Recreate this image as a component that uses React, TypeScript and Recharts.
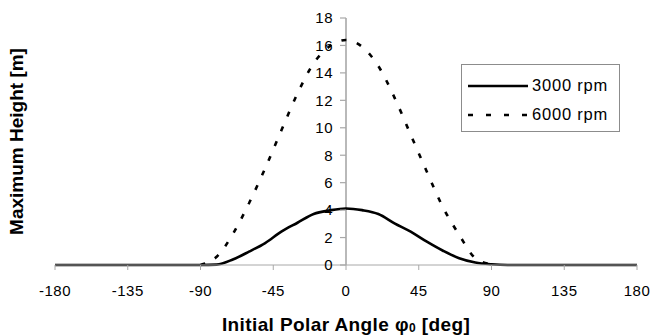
import React from "react";
import { LineChart, Line, XAxis, YAxis, ReferenceLine } from "recharts";

// Polar angle samples in degrees
const angles = [
  -180, -170, -160, -150, -140, -130, -120, -110, -100, -90, -80, -70, -60, -50, -40, -30, -20, -10,
  0, 10, 20, 30, 40, 50, 60, 70, 80, 90, 100, 110, 120, 130, 140, 150, 160, 170, 180,
];

// Maximum height [m] at 3000 rpm
const height3000 = [
  0, 0, 0, 0, 0, 0, 0, 0, 0, 0, 0.03, 0.4, 0.97, 1.6, 2.43, 3.08, 3.72, 3.98,
  4.12, 4.0, 3.72, 3.04, 2.43, 1.7, 1.04, 0.49, 0.18, 0.05, 0, 0, 0, 0, 0, 0, 0, 0, 0,
];

// Maximum height [m] at 6000 rpm (only defined between -90 and 90 deg)
const height6000 = [
  null, null, null, null, null, null, null, null, null, 0, 0.6, 2.25, 4.5, 7.05, 9.8, 12.5, 14.7, 15.95,
  16.4, 15.9, 14.5, 12.2, 9.5, 6.8, 4.2, 2.2, 0.5, 0.05, null, null, null, null, null, null, null, null, null,
];

const xTicks = [-180, -135, -90, -45, 0, 45, 90, 135, 180];
const yTicks = [0, 2, 4, 6, 8, 10, 12, 14, 16, 18];

const series = [
  { key: "rpm3000", name: "3000 rpm", dash: undefined as string | undefined },
  { key: "rpm6000", name: "6000 rpm", dash: "5 11" },
];

const data = angles.map((a, i) => ({
  angle: a,
  rpm3000: height3000[i],
  rpm6000: height6000[i],
}));

const W = 650;
const H = 335;
const MARGIN = { top: 18, right: 13, bottom: 0, left: 0 };
const Y_AXIS_W = 55;
const X_AXIS_H = 70;
const PLOT_W = W - MARGIN.left - MARGIN.right - Y_AXIS_W;
// horizontal position of angle 0, where the vertical axis crosses
const ZERO_X = MARGIN.left + Y_AXIS_W + PLOT_W / 2;

const FONT = "'Liberation Sans', Arial, Helvetica, sans-serif";
const AXIS_GRAY = "#a8a8a8";

function CenteredYTick(props: any) {
  const { y, payload } = props;
  return (
    <g>
      <line x1={ZERO_X - 6} x2={ZERO_X} y1={y} y2={y} stroke={AXIS_GRAY} strokeWidth={1.2} />
      <text
        x={ZERO_X - 13}
        y={y}
        dy="0.355em"
        textAnchor="end"
        fontFamily={FONT}
        fontSize={15}
        letterSpacing={0.5}
        fill="#000"
      >
        {payload.value}
      </text>
    </g>
  );
}

function XTitle(props: any) {
  const vb = props.viewBox || {};
  const cx = vb.x + vb.width / 2;
  const by = vb.y + vb.height - 4;
  return (
    <text x={cx} y={by} textAnchor="middle" fontFamily={FONT} fontWeight="bold" fontSize={19} letterSpacing={0.4} fill="#000">
      Initial Polar Angle φ
      <tspan fontSize={12} dy={1}>0</tspan>
      <tspan dy={-1}> [deg]</tspan>
    </text>
  );
}

function YTitle() {
  const cx = 23;
  const cy = MARGIN.top + (H - X_AXIS_H - MARGIN.top) / 2;
  return (
    <text
      x={cx}
      y={cy}
      transform={`rotate(-90 ${cx} ${cy})`}
      textAnchor="middle"
      fontFamily={FONT}
      fontWeight="bold"
      fontSize={19}
      fill="#000"
    >
      Maximum Height [m]
    </text>
  );
}

function LegendBox() {
  return (
    <div
      style={{
        position: "absolute",
        left: 461,
        top: 64,
        width: 157,
        height: 60,
        border: "1px solid #8c8c8c",
        background: "#fff",
        paddingTop: 6,
        boxSizing: "content-box",
        fontFamily: FONT,
      }}
    >
      {series.map((s) => (
        <div key={s.key} style={{ display: "flex", alignItems: "center", height: 29, paddingLeft: 6 }}>
          <svg width={60} height={10} style={{ display: "block" }}>
            <line x1={0} x2={60} y1={5} y2={5} stroke="#000" strokeWidth={2.6} strokeDasharray={s.dash ? "5 13" : undefined} />
          </svg>
          <span style={{ marginLeft: 4, fontSize: 16.5, letterSpacing: 0.8, color: "#000", lineHeight: "29px" }}>{s.name}</span>
        </div>
      ))}
    </div>
  );
}

export default function App() {
  return (
    <div style={{ position: "absolute", left: 0, top: 0, width: W, height: H, background: "#fff" }}>
      <LineChart width={W} height={H} data={data} margin={MARGIN}>
        <ReferenceLine x={0} stroke={AXIS_GRAY} strokeWidth={1.6} />
        <XAxis
          dataKey="angle"
          type="number"
          domain={[-180, 180]}
          ticks={xTicks}
          height={X_AXIS_H}
          stroke={AXIS_GRAY}
          tickSize={5}
          tickMargin={15}
          tick={{ fontFamily: FONT, fontSize: 15, fill: "#000", letterSpacing: 0.5 }}
          label={<XTitle />}
          interval={0}
        />
        <YAxis
          type="number"
          domain={[0, 18]}
          ticks={yTicks}
          width={Y_AXIS_W}
          axisLine={false}
          tickLine={false}
          tick={<CenteredYTick />}
          interval={0}
        />
        {series.map((s) => (
          <Line
            key={s.key}
            dataKey={s.key}
            name={s.name}
            type="monotone"
            stroke="#000"
            strokeWidth={2.6}
            strokeDasharray={s.dash}
            dot={false}
            activeDot={false}
            connectNulls={false}
            isAnimationActive={false}
          />
        ))}
        <YTitle />
      </LineChart>
      <LegendBox />
    </div>
  );
}
